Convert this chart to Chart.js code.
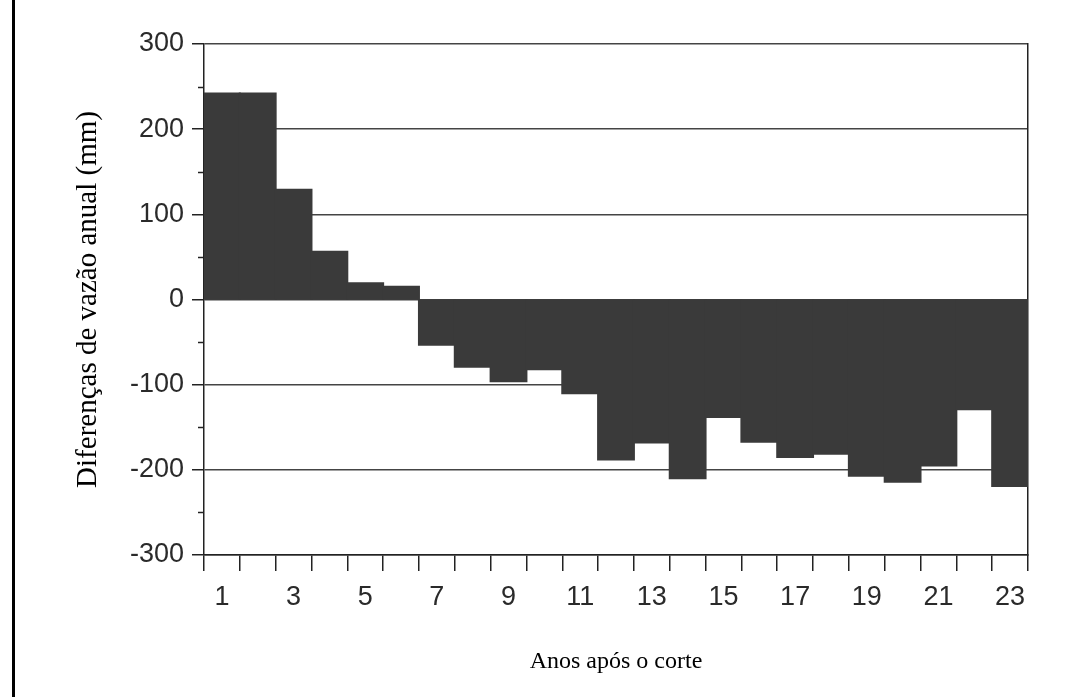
<!DOCTYPE html>
<html>
<head>
<meta charset="utf-8">
<script src="https://cdn.jsdelivr.net/npm/chart.js@4/dist/chart.umd.min.js"></script>
<style>
  html, body { margin: 0; padding: 0; background: #ffffff; }
  #wrap { position: relative; width: 1083px; height: 697px; }
  #edge { position: absolute; left: 12px; top: 0; width: 3px; height: 697px; background: #000; }
  canvas { position: absolute; left: 0; top: 0; }
</style>
</head>
<body>
<div id="wrap">
  <div id="edge"></div>
  <canvas id="c" width="1083" height="697"></canvas>
</div>
<script>
const years = ['1','2','3','4','5','6','7','8','9','10','11','12','13','14','15','16','17','18','19','20','21','22','23'];
const flowDiff = [242, 242, 129, 56, 19, 15, -53, -79, -96, -82, -110, -188, -168, -210, -138, -167, -185, -181, -207, -214, -195, -129, -219];
const yTickValues = [-300, -200, -100, 0, 100, 200, 300];
const yMinorTicks = [-250, -150, -50, 50, 150, 250];
const yTitle = 'Diferenças de vazão anual (mm)';
const xTitle = 'Anos após o corte';

const minorTickPlugin = {
  id: 'minorTicks',
  afterDraw(chart) {
    const s = chart.scales.y;
    const ctx = chart.ctx;
    ctx.save();
    ctx.strokeStyle = '#222';
    ctx.lineWidth = 1.5;
    yMinorTicks.forEach(v => {
      const py = Math.round(s.getPixelForValue(v)) + 0.5;
      ctx.beginPath();
      ctx.moveTo(s.right - 6, py);
      ctx.lineTo(s.right, py);
      ctx.stroke();
    });
    ctx.restore();
  }
};

new Chart(document.getElementById('c'), {
  type: 'bar',
  data: {
    labels: years,
    datasets: [{
      data: flowDiff,
      backgroundColor: '#3a3a3a',
      borderWidth: 0,
      inflateAmount: 1,
      barPercentage: 1.0,
      categoryPercentage: 1.0
    }]
  },
  options: {
    responsive: false,
    animation: false,
    layout: { padding: { left: 67, top: 44, right: 55, bottom: 17 } },
    plugins: { legend: { display: false }, tooltip: { enabled: false } },
    scales: {
      x: {
        offset: true,
        grid: { display: true, offset: true, drawOnChartArea: false, tickLength: 16, color: '#222', lineWidth: 1.5 },
        border: { display: true, color: '#222', width: 1.5 },
        ticks: {
          autoSkip: false, maxRotation: 0, minRotation: 0, padding: 10,
          color: '#2a2a2a',
          font: { family: '"Liberation Sans", Arial, sans-serif', size: 27 },
          callback: function (value, index) { return index % 2 === 0 ? years[index] : ''; }
        },
        title: {
          display: true, text: xTitle, color: '#000',
          font: { family: '"Liberation Serif", "Times New Roman", serif', size: 24 }
        },
        afterFit: function (scale) { scale.height = 125; }
      },
      y: {
        min: -300, max: 300,
        afterBuildTicks: function (scale) { scale.ticks = yTickValues.map(v => ({ value: v })); },
        grid: { color: '#444', lineWidth: 1.5, tickLength: 12, tickColor: '#222' },
        border: { display: true, color: '#222', width: 1.5 },
        ticks: {
          padding: 8, color: '#2a2a2a',
          font: { family: '"Liberation Sans", Arial, sans-serif', size: 27 }
        },
        title: {
          display: true, text: yTitle, color: '#000',
          font: { family: '"Liberation Serif", "Times New Roman", serif', size: 29 }
        },
        afterFit: function (scale) { scale.width = 137; }
      },
      yr: {
        position: 'right', min: -300, max: 300,
        grid: { drawOnChartArea: false, drawTicks: false },
        border: { display: true, color: '#222', width: 1.5 },
        ticks: { display: false },
        afterFit: function (scale) { scale.width = 0; }
      }
    }
  },
  plugins: [minorTickPlugin]
});
</script>
</body>
</html>
